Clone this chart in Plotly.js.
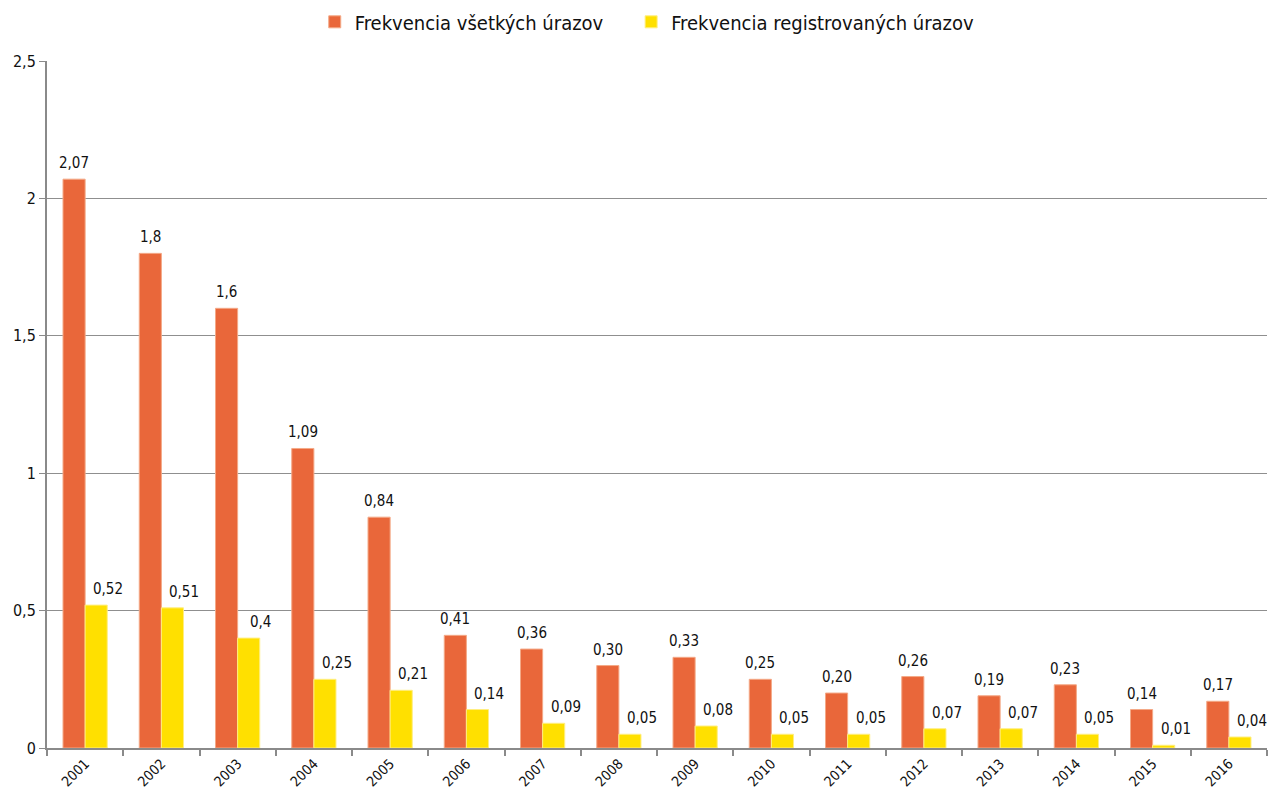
<!DOCTYPE html>
<html>
<head>
<meta charset="utf-8">
<script src="https://cdn.plot.ly/plotly-3.0.1.min.js"></script>
<style>html,body{margin:0;padding:0;background:#fff}#chart{width:1269px;height:792px}</style>
</head>
<body>
<div id="chart"></div>
<script>
const years = ['2001','2002','2003','2004','2005','2006','2007','2008','2009','2010','2011','2012','2013','2014','2015','2016'];
const allInjuries = [2.07,1.8,1.6,1.09,0.84,0.41,0.36,0.30,0.33,0.25,0.20,0.26,0.19,0.23,0.14,0.17];
const allLabels = ['2,07','1,8','1,6','1,09','0,84','0,41','0,36','0,30','0,33','0,25','0,20','0,26','0,19','0,23','0,14','0,17'];
const registered = [0.52,0.51,0.4,0.25,0.21,0.14,0.09,0.05,0.08,0.05,0.05,0.07,0.07,0.05,0.01,0.04];
const regLabels = ['0,52','0,51','0,4','0,25','0,21','0,14','0,09','0,05','0,08','0,05','0,05','0,07','0,07','0,05','0,01','0,04'];
const yTickVals = [0,0.5,1,1.5,2,2.5];
const yTickText = ['0','0,5','1','1,5','2','2,5'];
const seriesNames = ['Frekvencia všetkých úrazov','Frekvencia registrovaných úrazov'];

const FONT = '"DejaVu Sans Condensed", "Liberation Sans Narrow", Roboto, sans-serif';

const traces = [
  {type:'bar', name:seriesNames[0] + '\u00a0\u00a0\u00a0\u00a0', x:years, y:allInjuries,
   marker:{color:'#E9673A', line:{color:'#F4A987', width:1}}, hoverinfo:'x+y'},
  {type:'bar', name:seriesNames[1], x:years, y:registered,
   marker:{color:'#FFE000', line:{color:'#FFEE80', width:1}}, hoverinfo:'x+y'}
];

const annotations = [];
years.forEach((yr,i)=>{
  annotations.push({xref:'x', x:i, y:allInjuries[i], text:allLabels[i], showarrow:false,
    xanchor:'center', yanchor:'bottom', xshift:-11, yshift:5, font:{family:FONT,size:15,color:'#111'}});
  annotations.push({xref:'x', x:i, y:registered[i], text:regLabels[i], showarrow:false,
    xanchor:'center', yanchor:'bottom', xshift:23, yshift:5, font:{family:FONT,size:15,color:'#111'}});
});

const layout = {
  width:1269, height:792,
  margin:{l:47, r:2, t:61, b:44},
  paper_bgcolor:'#fff', plot_bgcolor:'#fff',
  font:{family:FONT, color:'#111'},
  barmode:'group', bargap:0.42, bargroupgap:0,
  showlegend:true,
  legend:{orientation:'h', x:0.492, xanchor:'center', y:1.057, yanchor:'middle',
    font:{family:FONT, size:20, color:'#111'}, traceorder:'normal'},
  xaxis:{type:'category', range:[-0.5,15.5], autorange:false, tickangle:-45, tickfont:{family:FONT,size:14,color:'#111'},
    showline:true, linecolor:'#8a8a8a', linewidth:2, ticks:'outside', tickson:'boundaries',
    ticklen:6, tickcolor:'#8a8a8a', tickwidth:2, showgrid:false, fixedrange:true},
  yaxis:{range:[0,2.5], autorange:false, tickvals:yTickVals, ticktext:yTickText,
    tickfont:{family:FONT,size:16,color:'#111'},
    showline:true, linecolor:'#8a8a8a', linewidth:2, ticks:'outside', ticklen:6,
    tickcolor:'#8a8a8a', tickwidth:1, showgrid:true, gridcolor:'#8f8f8f', gridwidth:1,
    zeroline:false, fixedrange:true},
  annotations:annotations
};

Plotly.newPlot('chart', traces, layout, {displayModeBar:false, staticPlot:true});
</script>
</body>
</html>
